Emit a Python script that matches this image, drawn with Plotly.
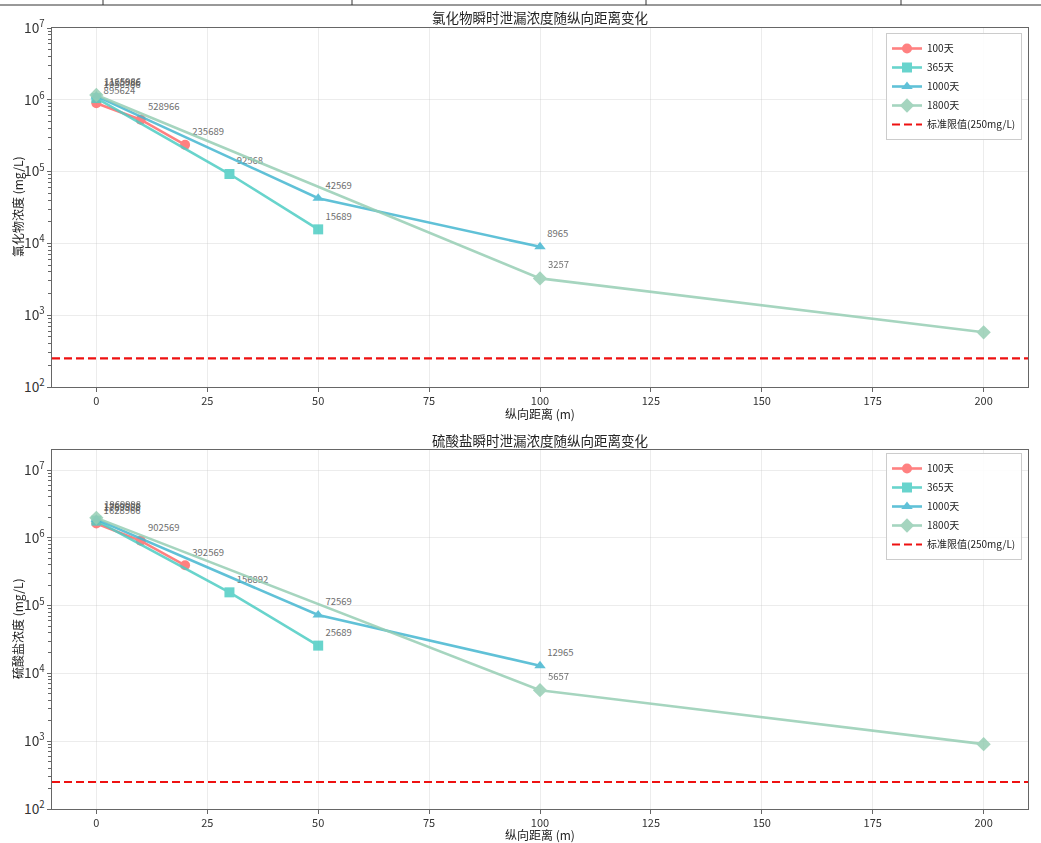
import plotly.graph_objects as go

# ---------------- data ----------------
series_names = ["100天", "365天", "1000天", "1800天"]
series_colors = ["#FF6B6B", "#4ECDC4", "#45B7D1", "#96CEB4"]
series_symbols = ["circle", "square", "triangle-up", "diamond"]

dist_100 = [0, 10, 20]
dist_365 = [0, 30, 50]
dist_1000 = [0, 50, 100]
dist_1800 = [0, 100, 200]

cl_100 = [895624, 528966, 235689]
cl_365 = [1056986, 92568, 15689]
cl_1000 = [1125986, 42569, 8965]
cl_1800 = [1165986, 3257, 578]

so4_100 = [1628966, 902569, 392569]
so4_365 = [1789568, 156892, 25689]
so4_1000 = [1869998, 72569, 12965]
so4_1800 = [1969998, 5657, 905]

limit_value = 250
limit_name = "标准限值(250mg/L)"
x_ticks = [0, 25, 50, 75, 100, 125, 150, 175, 200]

titles = ["氯化物瞬时泄漏浓度随纵向距离变化", "硫酸盐瞬时泄漏浓度随纵向距离变化"]
ytitles = ["氯化物浓度 (mg/L)", "硫酸盐浓度 (mg/L)"]
xtitle = "纵向距离 (m)"

FONT = "Noto Sans CJK SC, DejaVu Sans, sans-serif"

# ---------------- layout geometry ----------------
W, H = 1041, 843
L, R, T, B = 52, 1028, 28, 809
PH = B - T
PW = R - L
top_dom = [(B - 387) / PH, 1.0]
bot_dom = [0.0, (B - 450) / PH]

def px_x(px):
    return (px - L) / PW

def px_y(py):
    return (B - py) / PH

fig = go.Figure()

dists = [dist_100, dist_365, dist_1000, dist_1800]
panels = [
    [cl_100, cl_365, cl_1000, cl_1800],
    [so4_100, so4_365, so4_1000, so4_1800],
]

for p, vals in enumerate(panels):
    xa = "x" if p == 0 else "x2"
    ya = "y" if p == 0 else "y2"
    lg = "legend" if p == 0 else "legend2"
    for i in range(4):
        xs = dists[i]
        ys = vals[i]
        txt = [str(v) if x <= 100 else "" for x, v in zip(xs, ys)]
        fig.add_trace(go.Scatter(
            x=xs, y=ys, name=series_names[i], mode="lines+markers+text",
            text=txt, textposition="top right",
            textfont=dict(size=9.5, color="#555555", family=FONT),
            line=dict(color=series_colors[i], width=2.6),
            marker=dict(symbol=series_symbols[i], size=10 if i < 3 else 11,
                        color=series_colors[i]),
            opacity=0.85, xaxis=xa, yaxis=ya, legend=lg, cliponaxis=False,
        ))
    fig.add_trace(go.Scatter(
        x=[-10, 210], y=[limit_value, limit_value], name=limit_name,
        mode="lines", line=dict(color="#EE1111", width=2.2, dash="8px,4px"),
        xaxis=xa, yaxis=ya, legend=lg,
    ))

axis_common = dict(
    showline=True, linecolor="#666666", linewidth=1.2, mirror=True,
    showgrid=True, gridcolor="rgba(200,200,200,0.35)", gridwidth=1,
    ticks="outside", ticklen=4, tickcolor="#666666",
    tickfont=dict(size=11, color="#333333", family=FONT),
    zeroline=False, automargin=False,
)

for p in range(2):
    sfx = "" if p == 0 else "2"
    dom = top_dom if p == 0 else bot_dom
    fig.layout["xaxis" + sfx] = dict(
        axis_common, domain=[0, 1], range=[-10, 210], tickvals=x_ticks,
        anchor="y" + sfx,
    )
    fig.layout["yaxis" + sfx] = dict(
        axis_common, domain=dom, type="log",
        range=[2, 7] if p == 0 else [2, 7.295],
        dtick=1, exponentformat="power", showexponent="all",
        anchor="x" + sfx,
        minor=dict(ticks="outside", ticklen=2.5, tickcolor="#666666", dtick="D1", showgrid=False),
    )

legend_common = dict(
    bgcolor="rgba(255,255,255,0.9)", bordercolor="#CCCCCC", borderwidth=1,
    font=dict(size=10, color="#222222", family=FONT),
    xanchor="right", yanchor="top", tracegroupgap=0, itemwidth=30,
)
fig.update_layout(
    legend=dict(legend_common, x=px_x(1022), y=px_y(33)),
    legend2=dict(legend_common, x=px_x(1022), y=px_y(453)),
)

annotations = []
for p, ypx in enumerate([17, 440]):
    annotations.append(dict(
        text=titles[p], x=0.5, y=px_y(ypx), xref="paper", yref="paper",
        showarrow=False, xanchor="center", yanchor="middle",
        font=dict(size=13.5, color="#222222", family=FONT),
    ))
for p, ypx in enumerate([413, 834]):
    annotations.append(dict(
        text=xtitle, x=0.5, y=px_y(ypx), xref="paper", yref="paper",
        showarrow=False, xanchor="center", yanchor="middle",
        font=dict(size=12, color="#222222", family=FONT),
    ))
for p, ypx in enumerate([207, 629]):
    annotations.append(dict(
        text=ytitles[p], x=px_x(17), y=px_y(ypx), xref="paper", yref="paper",
        showarrow=False, xanchor="center", yanchor="middle", textangle=-90,
        font=dict(size=12, color="#222222", family=FONT),
    ))

# faint page artefacts at top (table border from the page above)
shapes = [dict(type="line", xref="paper", yref="paper",
               x0=px_x(0), x1=px_x(W), y0=px_y(5), y1=px_y(5),
               line=dict(color="#333333", width=1))]
for vx in [103, 352, 646, 901]:
    shapes.append(dict(type="line", xref="paper", yref="paper",
                       x0=px_x(vx), x1=px_x(vx), y0=px_y(0), y1=px_y(5),
                       line=dict(color="#333333", width=1)))

fig.update_layout(
    width=W, height=H,
    margin=dict(l=L, r=W - R, t=T, b=H - B, pad=0, autoexpand=False),
    paper_bgcolor="white", plot_bgcolor="white",
    font=dict(family=FONT),
    annotations=annotations, shapes=shapes,
    showlegend=True,
)

fig.write_html(
    "out.html",
    config={"displayModeBar": False},
    post_script="document.body.style.margin='0';document.body.style.overflow='hidden';",
)
